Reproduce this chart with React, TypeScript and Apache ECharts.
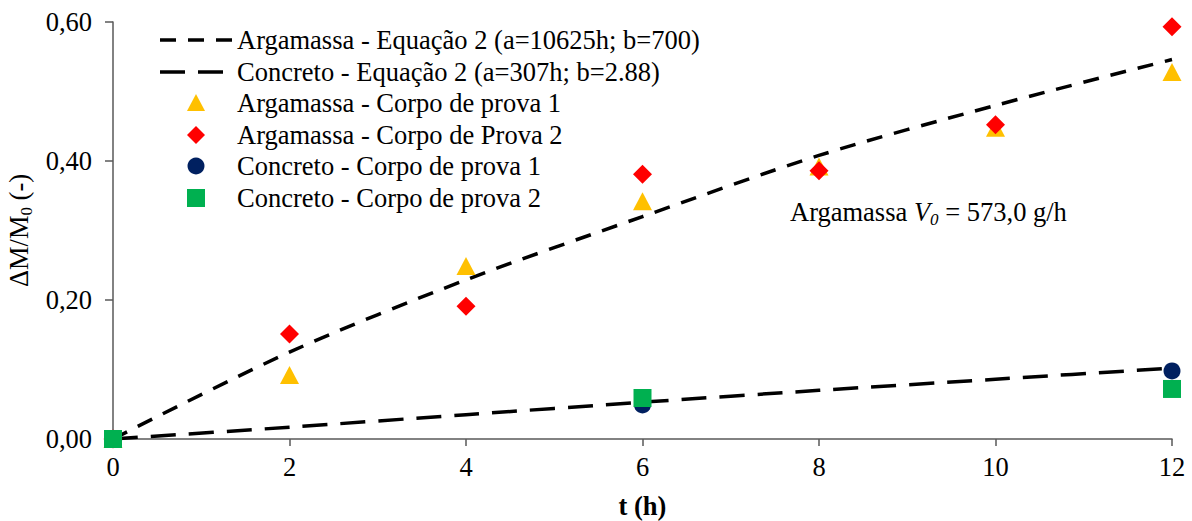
import React, { useEffect, useRef } from "react";
import * as echarts from "echarts";

const hours = [0, 2, 4, 6, 8, 10, 12];
const argCP1 = [0, 0.092, 0.249, 0.342, 0.392, 0.448, 0.528];
const argCP2 = [0, 0.151, 0.191, 0.381, 0.386, 0.452, 0.593];
const conHours = [0, 6, 12];
const conCP1 = [0, 0.049, 0.098];
const conCP2 = [0, 0.059, 0.072];
const argEq = [0, 0.125, 0.229, 0.32, 0.408, 0.48, 0.546];
const conEq = [0, 0.017, 0.035, 0.053, 0.07, 0.086, 0.102];

const legendNames = [
  "Argamassa - Equação 2 (a=10625h; b=700)",
  "Concreto - Equação 2 (a=307h; b=2.88)",
  "Argamassa - Corpo de prova 1",
  "Argamassa - Corpo de Prova 2",
  "Concreto - Corpo de prova 1",
  "Concreto - Corpo de prova 2",
];

const FONT = "Liberation Serif";
const FS = 26.5;
const YELLOW = "#FFC000";
const RED = "#FF0000";
const NAVY = "#002060";
const GREEN = "#00B050";

const pairs = (xs: number[], ys: number[]) => xs.map((x, i) => [x, ys[i]]);

const richBase = {
  t: { fontFamily: FONT, fontSize: FS, color: "#000", fill: "#000" },
  b: { fontFamily: FONT, fontSize: FS, fontWeight: "bold", color: "#000", fill: "#000", lineHeight: 24 },
  s: { fontFamily: FONT, fontSize: 17, color: "#000", fill: "#000", padding: [14, 0, 0, 0] },
  a: { fontFamily: FONT, fontSize: 26.5, color: "#000", fill: "#000" },
  i: { fontFamily: FONT, fontSize: 26.5, fontStyle: "italic", color: "#000", fill: "#000" },
  si: { fontFamily: FONT, fontSize: 17, fontStyle: "italic", color: "#000", fill: "#000", padding: [14, 0, 0, 0] },
};

export default function App() {
  const ref = useRef<HTMLDivElement>(null);
  useEffect(() => {
    if (!ref.current) return;
    const chart = echarts.init(ref.current, undefined, { renderer: "svg" });
    const rowY = [40, 72, 103, 135, 166, 198];
    const lx1 = 160, lx2 = 232, sx = 196, tx = 237;
    const legendGraphics: any[] = [];
    legendGraphics.push({
      type: "line",
      shape: { x1: lx1, y1: rowY[0], x2: lx2, y2: rowY[0] },
      style: { stroke: "#000", lineWidth: 3.5, lineDash: [16, 12] },
    });
    legendGraphics.push({
      type: "line",
      shape: { x1: lx1, y1: rowY[1], x2: lx2, y2: rowY[1] },
      style: { stroke: "#000", lineWidth: 3.5, lineDash: [25, 13] },
    });
    legendGraphics.push({
      type: "polygon",
      shape: { points: [[sx, rowY[2] - 9], [sx + 9, rowY[2] + 8], [sx - 9, rowY[2] + 8]] },
      style: { fill: YELLOW },
    });
    legendGraphics.push({
      type: "polygon",
      shape: { points: [[sx, rowY[3] - 9], [sx + 9, rowY[3]], [sx, rowY[3] + 9], [sx - 9, rowY[3]]] },
      style: { fill: RED },
    });
    legendGraphics.push({
      type: "circle",
      shape: { cx: sx, cy: rowY[4], r: 8.5 },
      style: { fill: NAVY },
    });
    legendGraphics.push({
      type: "rect",
      shape: { x: sx - 9, y: rowY[5] - 9, width: 18, height: 18 },
      style: { fill: GREEN },
    });
    legendNames.forEach((n, i) => {
      legendGraphics.push({
        type: "text",
        x: tx,
        y: rowY[i],
        style: {
          text: `{t|${n}}`,
          fontFamily: FONT,
          fontSize: FS,
          fill: "#000",
          verticalAlign: "middle",
          align: "left",
          rich: richBase,
        },
      });
    });
    legendGraphics.push({
      type: "text",
      x: 790,
      y: 212,
      style: {
        text: "{a|Argamassa }{i|V}{si|0}{a| = 573,0 g/h}",
        fontFamily: FONT,
        fontSize: 26.5,
        fill: "#000",
        verticalAlign: "middle",
        align: "left",
        rich: richBase,
      },
    });

    const axisLine = { show: true, lineStyle: { color: "#595959", width: 1.5 } };
    chart.setOption({
      animation: false,
      backgroundColor: "#ffffff",
      textStyle: { fontFamily: FONT },
      grid: {
        left: 113,
        top: 22,
        width: 1059,
        height: 417,
        containLabel: false,
        outerBoundsMode: "none",
      },
      xAxis: {
        type: "value",
        min: 0,
        max: 12,
        interval: 2,
        name: "{b|t (h)}",
        nameLocation: "middle",
        nameGap: 55,
        nameTextStyle: { fontFamily: FONT, fontSize: FS, fontWeight: "bold", color: "#000", lineHeight: 24, rich: richBase },
        axisLine,
        axisTick: { show: true, length: 7, lineStyle: { color: "#595959", width: 1.5 } },
        axisLabel: {
          fontFamily: FONT,
          fontSize: FS,
          color: "#000",
          margin: 14,
          formatter: (v: number) => `{t|${v}}`,
          rich: richBase,
        },
        splitLine: { show: false },
      },
      yAxis: {
        type: "value",
        min: 0,
        max: 0.6,
        interval: 0.2,
        name: "{t|ΔM/M}{s|0}{t| (-)}",
        nameLocation: "middle",
        nameRotate: 90,
        nameGap: 72,
        nameTextStyle: { fontFamily: FONT, fontSize: FS, color: "#000", rich: richBase },
        axisLine,
        axisTick: { show: true, length: 8, lineStyle: { color: "#595959", width: 1.5 } },
        axisLabel: {
          fontFamily: FONT,
          fontSize: FS,
          color: "#000",
          margin: 21,
          formatter: (v: number) => `{t|${v.toFixed(2).replace(".", ",")}}`,
          rich: richBase,
        },
        splitLine: { show: false },
      },
      series: [
        {
          name: legendNames[0],
          type: "line",
          data: pairs(hours, argEq),
          smooth: 0.3,
          showSymbol: false,
          symbol: "none",
          lineStyle: { color: "#000", width: 3.5, type: [16, 12] },
          z: 2,
        },
        {
          name: legendNames[1],
          type: "line",
          data: pairs(hours, conEq),
          smooth: 0.3,
          showSymbol: false,
          symbol: "none",
          lineStyle: { color: "#000", width: 3.5, type: [25, 13] },
          z: 2,
        },
        {
          name: legendNames[2],
          type: "scatter",
          data: pairs(hours, argCP1),
          symbol: "triangle",
          symbolSize: [19, 18],
          itemStyle: { color: YELLOW, opacity: 1 },
          z: 3,
        },
        {
          name: legendNames[3],
          type: "scatter",
          data: pairs(hours, argCP2),
          symbol: "diamond",
          symbolSize: [19, 19],
          itemStyle: { color: RED, opacity: 1 },
          z: 4,
        },
        {
          name: legendNames[4],
          type: "scatter",
          data: pairs(conHours, conCP1),
          symbol: "circle",
          symbolSize: 17,
          itemStyle: { color: NAVY, opacity: 1 },
          z: 5,
        },
        {
          name: legendNames[5],
          type: "scatter",
          data: pairs(conHours, conCP2),
          symbol: "rect",
          symbolSize: 18,
          itemStyle: { color: GREEN, opacity: 1 },
          z: 6,
        },
      ],
      graphic: legendGraphics,
    });
    return () => chart.dispose();
  }, []);
  return (
    <div
      ref={ref}
      style={{ position: "fixed", left: 0, top: 0, width: 1192, height: 521, background: "#fff" }}
    />
  );
}
